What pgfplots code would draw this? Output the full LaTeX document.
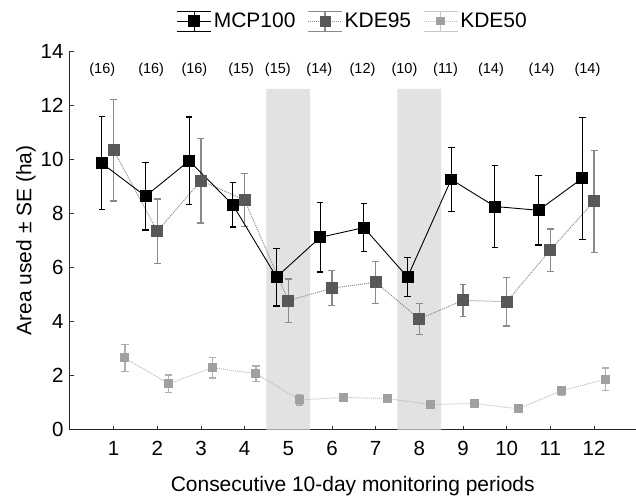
\documentclass[border=0pt]{standalone}
\usepackage{fontspec}
\setmainfont{Liberation Sans}
\usepackage{pgfplots}
\usepackage{pgfplotstable}
\pgfplotsset{compat=1.18}
\definecolor{kdemark}{HTML}{585858}
\definecolor{kdeline}{HTML}{8C8C8C}
\definecolor{kdeerr}{HTML}{8A8A8A}
\definecolor{lowmark}{HTML}{A0A0A0}
\definecolor{lowline}{HTML}{BDBDBD}
\definecolor{lowerr}{HTML}{B0B0B0}
\definecolor{band}{HTML}{E2E2E2}

\pgfplotstableread{
x y e
0.73 9.85 1.72
1.73 8.63 1.25
2.73 9.94 1.62
3.73 8.31 0.82
4.73 5.64 1.07
5.73 7.11 1.28
6.73 7.47 0.88
7.73 5.64 0.72
8.73 9.25 1.18
9.73 8.25 1.51
10.73 8.11 1.28
11.73 9.29 2.26
}\mcp

\pgfplotstableread{
x y e
1 10.33 1.88
2 7.34 1.19
3 9.20 1.56
4 8.49 0.98
5 4.77 0.80
6 5.23 0.64
7 5.45 0.78
8 4.09 0.56
9 4.78 0.60
10 4.73 0.90
11 6.64 0.78
12 8.44 1.88
}\kdeA

\pgfplotstableread{
x y e
1.26 2.65 0.51
2.26 1.70 0.32
3.26 2.29 0.38
4.26 2.07 0.28
5.26 1.10 0.19
6.26 1.19 0.12
7.26 1.15 0.12
8.26 0.93 0.07
9.26 0.97 0.12
10.26 0.77 0.07
11.26 1.44 0.17
12.26 1.86 0.42
}\kdeB

\begin{document}
\begin{tikzpicture}
\begin{axis}[
  scale only axis,
  width=566pt, height=379pt,
  xmin=0, xmax=12.95, ymin=0, ymax=14,
  axis x line*=bottom, axis y line*=left,
  axis line style={-, line width=1pt, black!85},
  xtick={1,...,12}, ytick={0,2,...,14},
  tick align=inside, major tick length=4pt,
  tick style={black!80, line width=0.6pt},
  /pgf/number format/assume math mode=true,
  tick label style={font=\fontsize{20.5}{24}\selectfont},
  xticklabel style={yshift=-8pt},
  yticklabel style={anchor=east, xshift=-3pt},
  label style={font=\fontsize{21}{25}\selectfont},
  xlabel={Consecutive 10-day monitoring periods},
  ylabel={Area used ± SE (ha)},
  ylabel style={at={(axis description cs:-0.078,0.5)}, anchor=center},
  xlabel style={at={(axis description cs:0.5,-0.15)}, anchor=center},
  legend columns=3,
  legend style={at={(0.5,1)}, anchor=south, yshift=17pt, draw=none,
    font=\fontsize{21}{25}\selectfont,
    /tikz/every even column/.append style={column sep=10pt}},
  clip=false,
]
\addplot[fill=band, draw=none, forget plot] coordinates {(4.5,0) (4.5,12.6) (5.5,12.6) (5.5,0)} \closedcycle;
\addplot[fill=band, draw=none, forget plot] coordinates {(7.5,0) (7.5,12.6) (8.5,12.6) (8.5,0)} \closedcycle;

\addplot[forget plot, color=lowline, densely dotted, line width=1pt,
  mark=square*, mark size=4pt, mark options={solid, fill=lowmark, draw=lowmark},
  error bars/.cd, y dir=both, y explicit, error mark=-,
  error bar style={solid, color=lowerr, line width=1.2pt},
  error mark options={rotate=90, mark size=3.8pt, line width=1.2pt, color=lowerr}]
  table[x=x, y=y, y error=e] {\kdeB};

\addplot[forget plot, color=kdeline, densely dotted, line width=1pt,
  mark=square*, mark size=5.5pt, mark options={solid, fill=kdemark, draw=kdemark},
  error bars/.cd, y dir=both, y explicit, error mark=-,
  error bar style={solid, color=kdeerr, line width=1.2pt},
  error mark options={rotate=90, mark size=3.5pt, line width=1.2pt, color=kdeerr}]
  table[x=x, y=y, y error=e] {\kdeA};

\addplot[forget plot, color=black, solid, line width=0.9pt,
  mark=square*, mark size=5.5pt, mark options={solid, fill=black},
  error bars/.cd, y dir=both, y explicit, error mark=-,
  error bar style={solid, color=black, line width=1.2pt},
  error mark options={rotate=90, mark size=3.3pt, line width=1.2pt, color=black}]
  table[x=x, y=y, y error=e] {\mcp};

\addlegendimage{legend image code/.code={
  \draw[black, line width=1.2pt] (0pt,-10pt)--(34pt,-10pt) (0pt,10pt)--(34pt,10pt) (17pt,-10pt)--(17pt,10pt);
  \draw[black, line width=1pt, mark=square*, mark size=5.5pt, mark options={fill=black}, mark repeat=2, mark phase=2] plot coordinates {(0pt,0pt) (17pt,0pt) (34pt,0pt)};
}}
\addlegendentry{MCP100}
\addlegendimage{legend image code/.code={
  \draw[kdeerr, line width=1.2pt] (0pt,-10pt)--(34pt,-10pt) (0pt,10pt)--(34pt,10pt) (17pt,-10pt)--(17pt,10pt);
  \draw[kdeline, densely dotted, line width=1pt, mark=square*, mark size=5pt, mark options={solid, fill=kdemark, draw=kdemark}, mark repeat=2, mark phase=2] plot coordinates {(0pt,0pt) (17pt,0pt) (34pt,0pt)};
}}
\addlegendentry{KDE95}
\addlegendimage{legend image code/.code={
  \draw[lowerr!70!white, line width=1.2pt] (0pt,-10pt)--(34pt,-10pt) (0pt,10pt)--(34pt,10pt) (17pt,-10pt)--(17pt,10pt);
  \draw[lowline, densely dotted, line width=1pt, mark=square*, mark size=3.8pt, mark options={solid, fill=lowmark, draw=lowmark}, mark repeat=2, mark phase=2] plot coordinates {(0pt,0pt) (17pt,0pt) (34pt,0pt)};
}}
\addlegendentry{KDE50}

\node[font=\fontsize{14.5}{17}\selectfont] at (axis cs:0.74,13.3) {(16)};
\node[font=\fontsize{14.5}{17}\selectfont] at (axis cs:1.86,13.3) {(16)};
\node[font=\fontsize{14.5}{17}\selectfont] at (axis cs:2.85,13.3) {(16)};
\node[font=\fontsize{14.5}{17}\selectfont] at (axis cs:3.92,13.3) {(15)};
\node[font=\fontsize{14.5}{17}\selectfont] at (axis cs:4.76,13.3) {(15)};
\node[font=\fontsize{14.5}{17}\selectfont] at (axis cs:5.71,13.3) {(14)};
\node[font=\fontsize{14.5}{17}\selectfont] at (axis cs:6.70,13.3) {(12)};
\node[font=\fontsize{14.5}{17}\selectfont] at (axis cs:7.66,13.3) {(10)};
\node[font=\fontsize{14.5}{17}\selectfont] at (axis cs:8.60,13.3) {(11)};
\node[font=\fontsize{14.5}{17}\selectfont] at (axis cs:9.64,13.3) {(14)};
\node[font=\fontsize{14.5}{17}\selectfont] at (axis cs:10.80,13.3) {(14)};
\node[font=\fontsize{14.5}{17}\selectfont] at (axis cs:11.85,13.3) {(14)};
\path (rel axis cs:0,1) ++(-70pt,51pt) coordinate (tl);
\path (rel axis cs:0,0) ++(-70pt,-63pt) coordinate (bl);
\path (tl) -- (bl);
\end{axis}
\end{tikzpicture}
\end{document}
